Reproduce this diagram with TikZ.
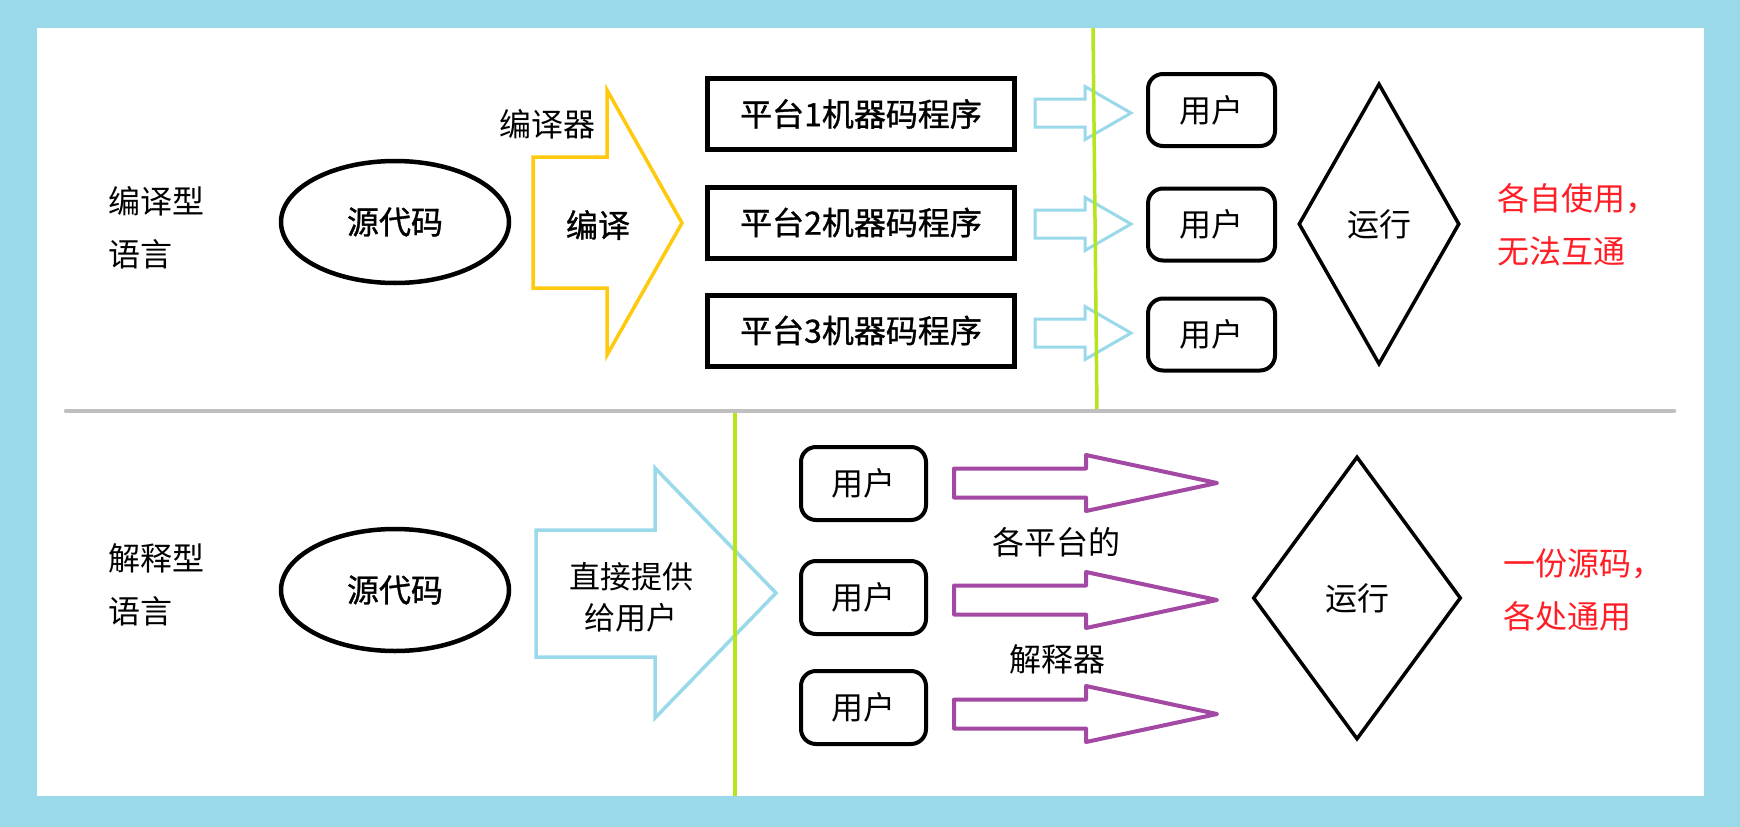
\documentclass[tikz,border=0pt]{standalone}
\usepackage{fontspec}
\usepackage{tikz}
\usetikzlibrary{positioning, shapes.geometric}
\newfontfamily\cjk{Noto Sans CJK SC}
\newfontfamily\cjkmid[FakeBold=1]{Noto Sans CJK SC}
\definecolor{bgblue}{HTML}{99D9EA}
\definecolor{goldarr}{HTML}{FFC90E}
\definecolor{limeline}{HTML}{B5E61D}
\definecolor{purplearr}{HTML}{A349A4}
\definecolor{notered}{RGB}{255,30,38}

\begin{document}
\begin{tikzpicture}[
  x=1pt, y=-1pt,
  every node/.style={font=\cjk\fontsize{32}{53}\selectfont, inner sep=0pt},
  heavy/.style      = {font=\cjkmid\fontsize{32}{40}\selectfont},
  langtext/.style   = {align=left, anchor=west},
  notetext/.style   = {align=left, anchor=west, text=notered},
  srcnode/.style    = {ellipse, draw, line width=4.5pt, minimum width=228pt, minimum height=122pt, heavy},
  platbox/.style    = {draw, line width=5pt, minimum width=307pt, minimum height=71pt, heavy},
  userbox/.style    = {draw, line width=4pt, rounded corners=15pt, minimum width=127pt, minimum height=72pt},
  rundiamond/.style = {diamond, draw, line width=3.5pt},
  cmparrow/.style   = {draw=goldarr, line width=3.5pt},
  givearrow/.style  = {draw=bgblue, line width=3.5pt},
  smallarrow/.style = {draw=bgblue, line width=3pt},
  purplearrow/.style= {draw=purplearr, line width=4pt, line join=round},
  sepline/.style    = {gray!50, line width=4.5pt, line cap=round},
  greenline/.style  = {limeline, line width=3.5pt},
]
  % frame
  \fill[bgblue] (0,0) rectangle (1740,827);
  \fill[white] (37,28) rectangle (1704,796);

  % --- compiled language (top half)
  \node[langtext] (lang1) at (108,228) {编译型\\语言};
  \node[srcnode] (src1) at (395,222) {源代码};
  \draw[cmparrow] (533,157) -- (607,157) -- (607,90) -- (682,223) -- (607,355) -- (607,288) -- (533,288) -- cycle;
  \node[heavy] (cmp) at (598,225) {编译};
  \node (cmplbl) at (547,124) {编译器};
  \foreach \i/\y in {1/114, 2/222.5, 3/330.5}
    \node[platbox] (plat\i) at (861,\y) {平台\i{}机器码程序};
  \foreach \c in {113, 224, 333}
    \draw[smallarrow] (1035,{\c-14}) -- (1085,{\c-14}) -- (1085,{\c-26.5}) -- (1131,\c)
      -- (1085,{\c+26.5}) -- (1085,{\c+14}) -- (1035,{\c+14}) -- cycle;
  \foreach \i/\y in {1/110, 2/224.5, 3/334.5}
    \node[userbox] (user\i) at (1211.5,\y) {用户};
  \node[rundiamond, minimum width=161pt, minimum height=281pt] (run1) at (1379,224) {运行};
  \node[notetext] (note1) at (1497,225) {各自使用，\\无法互通};

  % --- interpreted language (bottom half)
  \node[langtext] (lang2) at (108,585) {解释型\\语言};
  \node[srcnode] (src2) at (395,590) {源代码};
  \draw[givearrow] (536,530) -- (655,530) -- (655,468) -- (776,593) -- (655,718) -- (655,657) -- (536,657) -- cycle;
  \node[align=center, font=\cjk\fontsize{31}{41}\selectfont] (give) at (631,597) {直接提供\\给用户};
  \foreach \i/\y in {1/483.5, 2/597.5, 3/707.5}
    \node[userbox, minimum width=125pt, minimum height=73pt] (iuser\i) at (863.5,\y) {用户};
  \foreach \c in {483, 600, 714}
    \draw[purplearrow] (954,{\c-14.5}) -- (1086,{\c-14.5}) -- (1086,{\c-28}) -- (1217,\c)
      -- (1086,{\c+28}) -- (1086,{\c+14.5}) -- (954,{\c+14.5}) -- cycle;
  \node (plt) at (1056,542) {各平台的};
  \node (interp) at (1057,659) {解释器};
  \node[rundiamond, minimum width=208pt, minimum height=283pt] (run2) at (1357,598) {运行};
  \node[notetext] (note2) at (1503,590) {一份源码，\\各处通用};

  % dividers
  \draw[greenline] (1093,28) -- (1097,411);
  \draw[greenline] (735,411) -- (735,796);
  \draw[sepline] (66,411) -- (1674,411);
\end{tikzpicture}
\end{document}
